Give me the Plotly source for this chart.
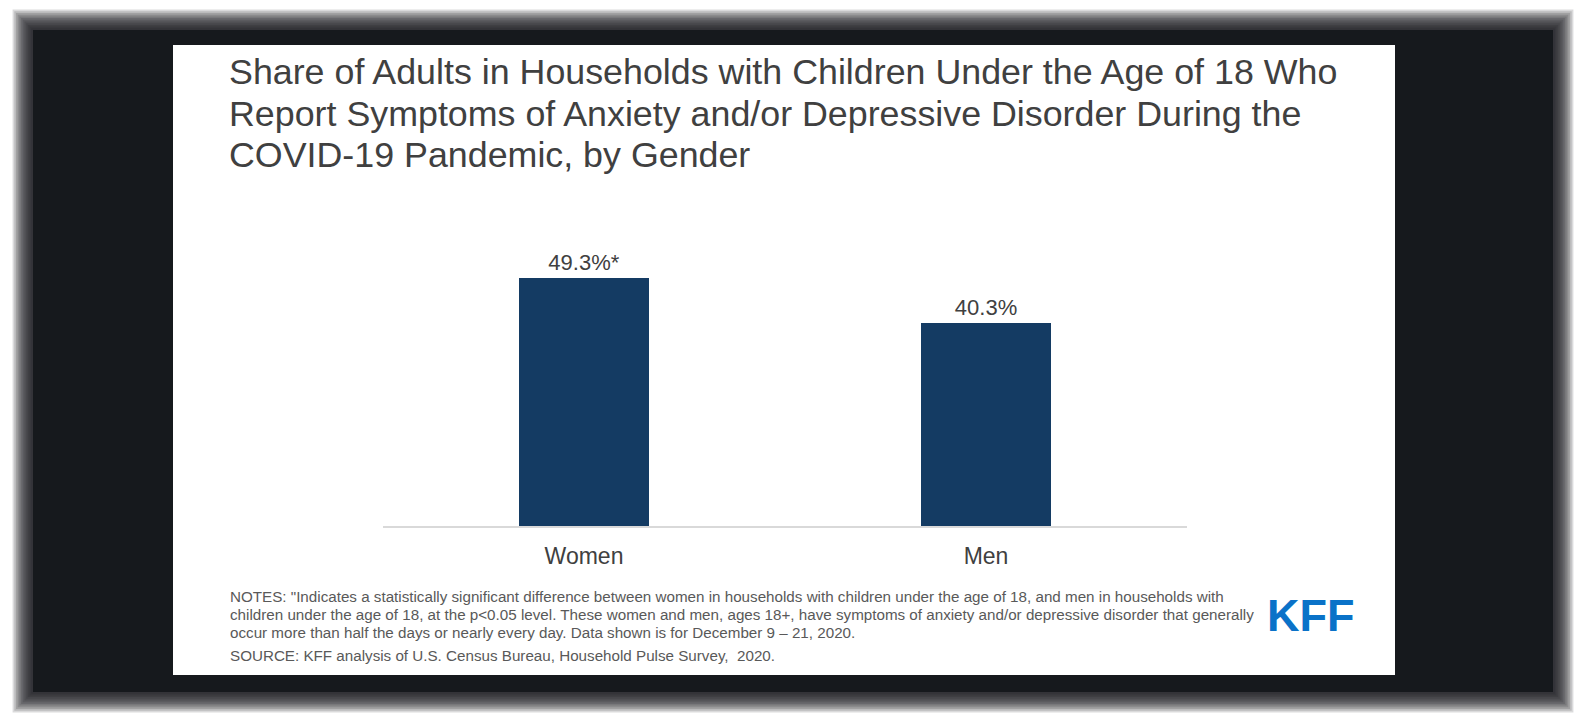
import plotly.graph_objects as go

categories = ["Women", "Men"]
values = [49.3, 40.3]
value_labels = ["49.3%*", "40.3%"]

title_lines = [
    "Share of Adults in Households with Children Under the Age of 18 Who",
    "Report Symptoms of Anxiety and/or Depressive Disorder During the",
    "COVID-19 Pandemic, by Gender",
]
note_lines = [
    "NOTES: \"Indicates a statistically significant difference between women in households with children under the age of 18, and men in households with",
    "children under the age of 18, at the p<0.05 level. These women and men, ages 18+, have symptoms of anxiety and/or depressive disorder that generally",
    "occur more than half the days or nearly every day. Data shown is for December 9 \u2013 21, 2020.",
]
source_line = "SOURCE: KFF analysis of U.S. Census Bureau, Household Pulse Survey,  2020."

# page has an 8px body margin; figure is sized so page == window
OFF = 8
W, H = 1586 - 2 * OFF, 724 - 2 * OFF
L, R, T, B = 383, 1187, 224, 526  # plot area in screen pixels
YMAX = 60.0

def px(x):
    return (x - L) / (R - L)

def py(y):
    return (B - y) / (B - T)

TEXT = "#404040"
FONT = "Liberation Sans, Arial, sans-serif"
DARK = "#16191d"

fig = go.Figure()
fig.add_trace(go.Bar(
    x=categories, y=values, text=value_labels, textposition="outside",
    textfont=dict(size=22, color=TEXT, family=FONT),
    marker=dict(color="#143b63", line=dict(width=0)),
    width=0.322, cliponaxis=False, hoverinfo="skip",
))

shapes = []
# blurred dark frame (stacked translucent layers)
n = 12
for i in range(n):
    g = (n - i) * 1.7
    shapes.append(dict(type="rect", xref="paper", yref="paper", layer="below",
                       x0=px(33 - g), x1=px(1553 + g), y0=py(692 + g), y1=py(30 - g),
                       fillcolor=DARK, opacity=0.16, line=dict(width=0)))
shapes.append(dict(type="rect", xref="paper", yref="paper", layer="below",
                   x0=px(33), x1=px(1553), y0=py(692), y1=py(30),
                   fillcolor=DARK, line=dict(width=0)))
# white slide
shapes.append(dict(type="rect", xref="paper", yref="paper", layer="below",
                   x0=px(173), x1=px(1395), y0=py(675), y1=py(45),
                   fillcolor="#ffffff", line=dict(width=0)))

annotations = []
for i, line in enumerate(title_lines):
    annotations.append(dict(text=line, xref="paper", yref="paper", x=px(227), y=py(72 + i * 41.7),
                            xanchor="left", yanchor="middle", showarrow=False,
                            font=dict(size=35.8, color=TEXT, family=FONT)))
for i, line in enumerate(note_lines):
    annotations.append(dict(text=line, xref="paper", yref="paper", x=px(228), y=py(596 + i * 18.3),
                            xanchor="left", yanchor="middle", showarrow=False,
                            font=dict(size=15.2, color="#595959", family=FONT)))
annotations.append(dict(text=source_line, xref="paper", yref="paper", x=px(228), y=py(655),
                        xanchor="left", yanchor="middle", showarrow=False,
                        font=dict(size=15.2, color="#595959", family=FONT)))
annotations.append(dict(text="<b>KFF</b>", xref="paper", yref="paper", x=px(1310), y=py(615),
                        xanchor="center", yanchor="middle", showarrow=False,
                        font=dict(size=45, color="#0a72c8", family=FONT)))

fig.update_layout(
    width=W, height=H,
    margin=dict(l=L - OFF, r=(W + OFF) - R, t=T - OFF, b=(H + OFF) - B, pad=0),
    paper_bgcolor="#ffffff", plot_bgcolor="rgba(0,0,0,0)",
    showlegend=False, shapes=shapes, annotations=annotations,
    xaxis=dict(range=[-0.5, 1.5], showline=True, linecolor="#d9d9d9", linewidth=2,
               showgrid=False, zeroline=False, ticks="", ticklabelstandoff=8,
               tickfont=dict(size=23, color=TEXT, family=FONT), fixedrange=True),
    yaxis=dict(range=[0, YMAX], visible=False, showgrid=False, zeroline=False, fixedrange=True),
    bargap=0,
)
fig.write_html("out.html", config={"displayModeBar": False})
